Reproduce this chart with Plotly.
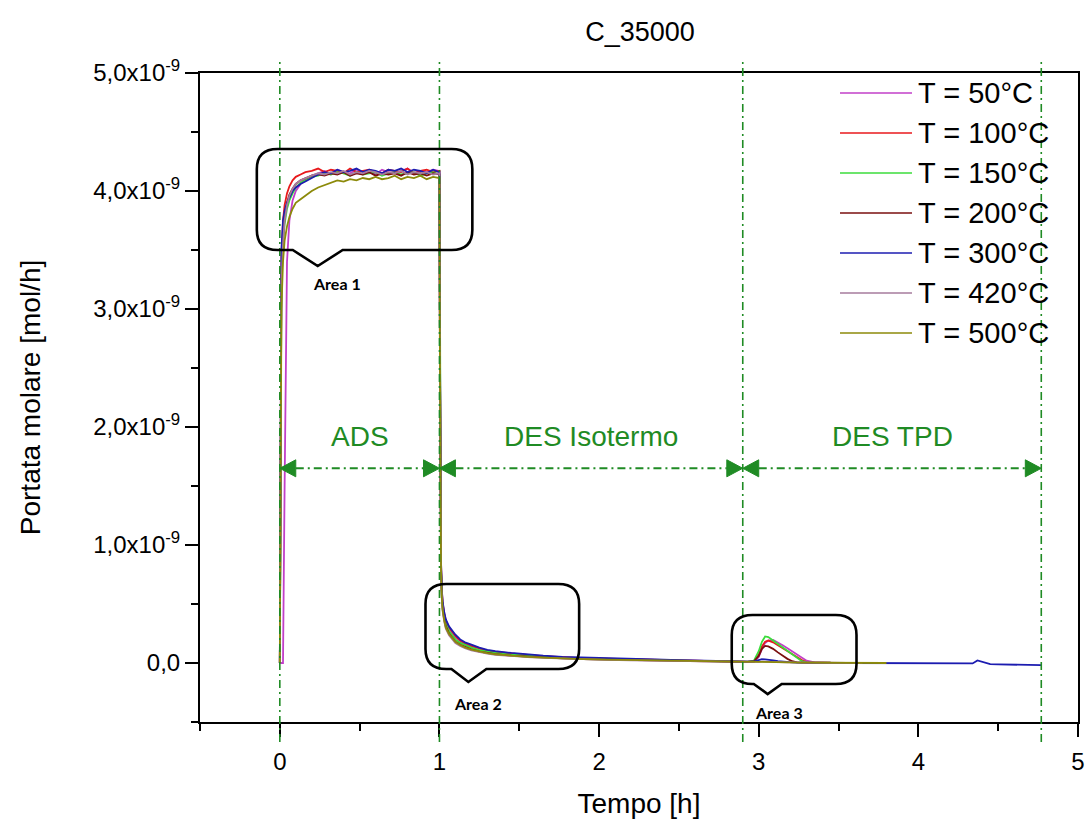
import plotly.graph_objects as go

# ---- time grids [h] ----
T_ADS = [0.0, 0.005, 0.01, 0.02, 0.03, 0.045, 0.06, 0.08, 0.1, 0.13, 0.16, 0.2,
         0.24, 0.28, 0.32, 0.36, 0.4, 0.44, 0.48, 0.52, 0.56, 0.6, 0.64, 0.68,
         0.72, 0.76, 0.8, 0.84, 0.88, 0.92, 0.96, 0.995]
T_DES = [1.0, 1.003, 1.006, 1.01, 1.015, 1.02, 1.03, 1.04, 1.06, 1.08, 1.1, 1.13,
         1.16, 1.2, 1.25, 1.3, 1.35, 1.45, 1.55, 1.65, 1.77, 1.9, 2.05, 2.2, 2.35,
         2.5, 2.65, 2.8, 2.9]
T_TPD = [2.93, 2.97, 3.0, 3.02, 3.04, 3.06, 3.09, 3.12, 3.15, 3.18, 3.21, 3.24,
         3.27, 3.3, 3.35, 3.45, 3.55, 3.65, 3.75, 3.8]
T_TAIL = [3.9, 4.0, 4.1, 4.2, 4.3, 4.34, 4.37, 4.4, 4.45, 4.5, 4.6, 4.7, 4.77]

# ---- molar flow [1e-9 mol/h] ----
ADS_50 = [0, 0, 0, 0, 1.5, 3.4, 3.75, 3.92, 4.0, 4.06, 4.1, 4.13, 4.15, 4.17, 4.14,
          4.18, 4.16, 4.15, 4.18, 4.16, 4.17, 4.14, 4.18, 4.16, 4.15, 4.17, 4.19,
          4.15, 4.17, 4.16, 4.18, 4.17]
DES_50 = [4.17, 2.7, 1.45, 0.82, 0.6, 0.5, 0.41, 0.35, 0.29, 0.25, 0.22, 0.185,
          0.16, 0.14, 0.12, 0.1, 0.09, 0.075, 0.065, 0.055, 0.047, 0.04, 0.035,
          0.03, 0.026, 0.021, 0.017, 0.013, 0.01]
TPD_50 = [0.01, 0.01, 0.05, 0.12, 0.17, 0.19, 0.195, 0.175, 0.15, 0.125, 0.1,
          0.075, 0.045, 0.02, 0.006, 0.003, None, None, None, None]

ADS_100 = [0, 2.6, 3.45, 3.75, 3.88, 3.98, 4.04, 4.09, 4.12, 4.14, 4.16, 4.17,
           4.19, 4.16, 4.18, 4.17, 4.15, 4.19, 4.16, 4.17, 4.18, 4.16, 4.15, 4.18,
           4.17, 4.16, 4.19, 4.15, 4.17, 4.18, 4.16, 4.17]
DES_100 = [4.17, 2.75, 1.5, 0.84, 0.61, 0.51, 0.42, 0.36, 0.3, 0.26, 0.23, 0.19,
           0.165, 0.145, 0.125, 0.105, 0.095, 0.08, 0.068, 0.058, 0.049, 0.042,
           0.037, 0.032, 0.027, 0.022, 0.018, 0.014, 0.011]
TPD_100 = [0.01, 0.015, 0.07, 0.14, 0.18, 0.19, 0.175, 0.15, 0.125, 0.1, 0.075,
           0.05, 0.025, 0.008, 0.004, 0.002, None, None, None, None]

ADS_150 = [0, 2.0, 3.2, 3.55, 3.72, 3.85, 3.92, 3.98, 4.03, 4.07, 4.09, 4.12, 4.13,
           4.15, 4.14, 4.16, 4.15, 4.13, 4.16, 4.14, 4.15, 4.16, 4.13, 4.15, 4.16,
           4.14, 4.15, 4.16, 4.13, 4.15, 4.16, 4.14]
DES_150 = [4.15, 2.7, 1.42, 0.8, 0.58, 0.48, 0.39, 0.33, 0.27, 0.23, 0.2, 0.17,
           0.15, 0.13, 0.11, 0.095, 0.085, 0.07, 0.06, 0.05, 0.043, 0.037, 0.032,
           0.028, 0.024, 0.019, 0.016, 0.012, 0.01]
TPD_150 = [0.01, 0.02, 0.1, 0.18, 0.225, 0.22, 0.19, 0.16, 0.13, 0.1, 0.07, 0.04,
           0.015, 0.005, 0.003, 0.002, None, None, None, None]

ADS_200 = [0, 2.1, 3.25, 3.6, 3.78, 3.9, 3.97, 4.02, 4.06, 4.09, 4.11, 4.13, 4.14,
           4.13, 4.15, 4.14, 4.16, 4.13, 4.15, 4.14, 4.16, 4.13, 4.15, 4.14, 4.15,
           4.13, 4.16, 4.14, 4.15, 4.13, 4.15, 4.14]
DES_200 = [4.14, 2.65, 1.4, 0.78, 0.56, 0.46, 0.37, 0.31, 0.25, 0.21, 0.18, 0.155,
           0.135, 0.115, 0.097, 0.085, 0.076, 0.062, 0.053, 0.046, 0.039, 0.034,
           0.029, 0.025, 0.021, 0.017, 0.014, 0.011, 0.009]
TPD_200 = [0.01, 0.015, 0.06, 0.12, 0.145, 0.14, 0.12, 0.09, 0.06, 0.035, 0.015,
           0.005, 0.003, 0.002, 0.002, 0.001, 0.001, None, None, None]

ADS_300 = [0, 2.8, 3.5, 3.75, 3.83, 3.9, 3.95, 4.0, 4.03, 4.06, 4.08, 4.11, 4.14,
           4.16, 4.15, 4.18, 4.16, 4.17, 4.19, 4.16, 4.18, 4.17, 4.15, 4.18, 4.17,
           4.19, 4.16, 4.18, 4.17, 4.15, 4.18, 4.16]
DES_300 = [4.16, 2.8, 1.5, 0.85, 0.62, 0.52, 0.43, 0.37, 0.31, 0.27, 0.24, 0.2,
           0.175, 0.155, 0.13, 0.112, 0.1, 0.085, 0.072, 0.062, 0.052, 0.046, 0.04,
           0.035, 0.03, 0.025, 0.02, 0.015, 0.012]
TPD_300 = [0.01, 0.012, 0.025, 0.032, 0.03, 0.028, 0.022, 0.015, 0.01, 0.008,
           0.005, 0.004, 0.003, 0.003, 0.002, 0.001, 0.0, 0.0, -0.002, -0.002]
TAIL_300 = [-0.003, -0.004, -0.005, -0.006, -0.006, -0.004, 0.022, 0.01, -0.01,
            -0.012, -0.015, -0.016, -0.018]

ADS_420 = [0, 2.0, 3.2, 3.55, 3.75, 3.88, 3.96, 4.02, 4.06, 4.09, 4.11, 4.13, 4.15,
           4.14, 4.16, 4.15, 4.17, 4.14, 4.16, 4.15, 4.17, 4.16, 4.14, 4.16, 4.15,
           4.17, 4.14, 4.16, 4.15, 4.16, 4.14, 4.15]
DES_420 = [4.15, 2.6, 1.35, 0.76, 0.54, 0.44, 0.35, 0.29, 0.235, 0.2, 0.17, 0.145,
           0.125, 0.108, 0.092, 0.08, 0.07, 0.058, 0.05, 0.043, 0.037, 0.032, 0.027,
           0.023, 0.02, 0.016, 0.013, 0.01, 0.008]
TPD_420 = [0.008, 0.008, 0.01, 0.012, 0.012, 0.011, 0.01, 0.008, 0.007, 0.006,
           0.005, 0.004, 0.003, 0.003, 0.002, 0.002, 0.001, 0.001, None, None]

ADS_500 = [0, 1.8, 3.0, 3.4, 3.58, 3.7, 3.78, 3.85, 3.9, 3.93, 3.96, 4.0, 4.03,
           4.05, 4.07, 4.09, 4.08, 4.1, 4.09, 4.11, 4.1, 4.12, 4.1, 4.11, 4.13,
           4.1, 4.12, 4.11, 4.13, 4.1, 4.12, 4.11]
DES_500 = [4.11, 2.6, 1.38, 0.77, 0.55, 0.45, 0.36, 0.3, 0.245, 0.21, 0.18, 0.152,
           0.132, 0.113, 0.096, 0.083, 0.074, 0.06, 0.052, 0.045, 0.038, 0.033,
           0.028, 0.024, 0.021, 0.017, 0.014, 0.011, 0.009]
TPD_500 = [0.008, 0.008, 0.009, 0.01, 0.01, 0.01, 0.009, 0.008, 0.007, 0.006,
           0.005, 0.004, 0.004, 0.003, 0.003, 0.002, 0.002, 0.001, 0.001, 0.0]

LABELS = ["T = 50°C", "T = 100°C", "T = 150°C", "T = 200°C",
          "T = 300°C", "T = 420°C", "T = 500°C"]
COLORS = ["#c23fc8", "#e8191c", "#3bdc3b", "#7a0f0f",
          "#1c1cb0", "#a67b9c", "#8c8a0a"]

SERIES = [
    (ADS_50 + DES_50 + TPD_50, []),
    (ADS_100 + DES_100 + TPD_100, []),
    (ADS_150 + DES_150 + TPD_150, []),
    (ADS_200 + DES_200 + TPD_200, []),
    (ADS_300 + DES_300 + TPD_300, TAIL_300),
    (ADS_420 + DES_420 + TPD_420, []),
    (ADS_500 + DES_500 + TPD_500, []),
]

# phase boundaries [h] and phase names
BOUNDS = [0.0, 1.0, 2.9, 4.77]
PHASES = ["ADS", "DES Isotermo", "DES TPD"]

Y_TICKS = [0, 1, 2, 3, 4, 5]
Y_TICKTEXT = ["0,0"] + [f"{v},0x10<sup>-9</sup>" for v in Y_TICKS[1:]]
X_TICKS = [0, 1, 2, 3, 4, 5]

GREEN = "#1f8b24"
FONT = "Liberation Sans, Arial, sans-serif"

# page geometry
W, H = 1086, 819
ML, MR, MT, MB = 200, 8, 73, 97


def paper_x(px):
    return (px - ML) / (W - ML - MR)


def paper_y(py):
    return 1 - (py - MT) / (H - MT - MB)


fig = go.Figure()

for (vals, tail), name, col in zip(SERIES, LABELS, COLORS):
    xs = T_ADS + T_DES + T_TPD + (T_TAIL if tail else [])
    fig.add_trace(go.Scatter(
        x=xs, y=vals + tail, mode="lines", name=name,
        line=dict(color=col, width=1.8), showlegend=False,
    ))

shapes = []
annotations = []

# phase boundary lines
for b in BOUNDS:
    shapes.append(dict(type="line", xref="x", yref="paper", x0=b, x1=b,
                       y0=paper_y(742), y1=paper_y(62),
                       line=dict(color=GREEN, width=1.6, dash="8px,4px,2px,4px")))

# double arrows spanning each phase
ARROW_Y = 1.65
TRI_L, TRI_H = 0.1, 0.072
for a, b, name in zip(BOUNDS[:-1], BOUNDS[1:], PHASES):
    shapes.append(dict(type="line", xref="x", yref="y", x0=a + TRI_L, x1=b - TRI_L,
                       y0=ARROW_Y, y1=ARROW_Y,
                       line=dict(color=GREEN, width=2, dash="8px,4px,2px,4px")))
    shapes.append(dict(type="path", xref="x", yref="y",
                       path=f"M{a},{ARROW_Y} L{a + TRI_L},{ARROW_Y + TRI_H} "
                            f"L{a + TRI_L},{ARROW_Y - TRI_H} Z",
                       fillcolor=GREEN, line=dict(color=GREEN, width=1)))
    shapes.append(dict(type="path", xref="x", yref="y",
                       path=f"M{b},{ARROW_Y} L{b - TRI_L},{ARROW_Y + TRI_H} "
                            f"L{b - TRI_L},{ARROW_Y - TRI_H} Z",
                       fillcolor=GREEN, line=dict(color=GREEN, width=1)))
    annotations.append(dict(x=(a + b) / 2, y=1.92, xref="x", yref="y", text=name,
                            showarrow=False,
                            font=dict(family=FONT, size=28, color=GREEN)))


def callout(x0, x1, y0, y1, tl, tip_x, tip_y, tr, rx, ry):
    return (f"M{x0 + rx},{y1} L{x1 - rx},{y1} Q{x1},{y1} {x1},{y1 - ry} "
            f"L{x1},{y0 + ry} Q{x1},{y0} {x1 - rx},{y0} L{tr},{y0} "
            f"L{tip_x},{tip_y} L{tl},{y0} L{x0 + rx},{y0} Q{x0},{y0} {x0},{y0 + ry} "
            f"L{x0},{y1 - ry} Q{x0},{y1} {x0 + rx},{y1} Z")


CALLOUTS = [
    # box x0, x1, y0, y1, tail left, tip x, tip y, tail right, label x, label y, text
    (-0.144, 1.206, 3.5, 4.356, 0.081, 0.2375, 3.364, 0.394, 0.356, 3.22, "Area 1"),
    (0.9125, 1.875, -0.051, 0.669, 1.075, 1.181, -0.161, 1.294, 1.24, -0.34, "Area 2"),
    (2.831, 3.6125, -0.178, 0.407, 2.969, 3.056, -0.263, 3.144, 3.125, -0.42, "Area 3"),
]
for x0, x1, y0, y1, tl, tx, ty, tr, lx, ly, txt in CALLOUTS:
    shapes.append(dict(type="path", xref="x", yref="y",
                       path=callout(x0, x1, y0, y1, tl, tx, ty, tr, 0.13, 0.17),
                       line=dict(color="black", width=2.6)))
    annotations.append(dict(x=lx, y=ly, xref="x", yref="y", text=f"<b>{txt}</b>",
                            showarrow=False,
                            font=dict(family="Lato, Open Sans, sans-serif",
                                      size=16, color="black")))

# legend drawn as line samples + labels
for i, (name, col) in enumerate(zip(LABELS, COLORS)):
    py = 93 + 40 * i
    shapes.append(dict(type="line", xref="paper", yref="paper",
                       x0=paper_x(840), x1=paper_x(912), y0=paper_y(py), y1=paper_y(py),
                       line=dict(color=col, width=1.6)))
    annotations.append(dict(x=paper_x(916), y=paper_y(py), xref="paper", yref="paper",
                            xanchor="left", yanchor="middle", text=name,
                            showarrow=False,
                            font=dict(family=FONT, size=29, color="black")))

axis_common = dict(showline=True, linecolor="black", linewidth=2, mirror=True,
                   ticks="outside", tickcolor="black", tickwidth=2, ticklen=13,
                   showgrid=False, zeroline=False, automargin=False,
                   tickfont=dict(family=FONT, size=24, color="black"))

fig.update_layout(
    width=W, height=H,
    margin=dict(l=ML, r=MR, t=MT, b=MB, autoexpand=False),
    paper_bgcolor="white", plot_bgcolor="white",
    title=dict(text="C_35000", x=640 / W,
               xanchor="center", y=1 - 32 / H, yanchor="middle",
               font=dict(family=FONT, size=27, color="black")),
    xaxis=dict(range=[-0.5, 5], tickvals=X_TICKS,
               minor=dict(tickvals=[-0.5, 0.5, 1.5, 2.5, 3.5, 4.5], ticks="outside",
                          ticklen=7, tickwidth=2, tickcolor="black"),
               ticklabelstandoff=4,
               title=dict(text="Tempo [h]", standoff=22,
                          font=dict(family=FONT, size=28, color="black")),
               **axis_common),
    yaxis=dict(range=[-0.5, 5], tickvals=Y_TICKS, ticktext=Y_TICKTEXT,
               minor=dict(tickvals=[-0.5, 0.5, 1.5, 2.5, 3.5, 4.5], ticks="outside",
                          ticklen=7, tickwidth=2, tickcolor="black"),
               title=dict(text="Portata molare [mol/h]", standoff=44,
                          font=dict(family=FONT, size=28, color="black")),
               **axis_common),
    shapes=shapes,
    annotations=annotations,
)

fig.write_html("out.html")
